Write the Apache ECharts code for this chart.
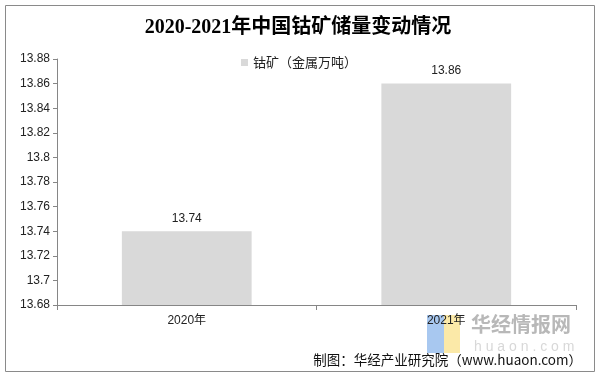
<!DOCTYPE html>
<html><head><meta charset="utf-8">
<script src="https://cdn.jsdelivr.net/npm/echarts@6/dist/echarts.min.js"></script>
<style>html,body{margin:0;padding:0;background:#fff}#c{width:596px;height:374px}</style>
</head><body><div id="c"></div>
<script>
var categories = ['2020年', '2021年'];
var values = [13.74, 13.86];
var seriesName = '钴矿（金属万吨）';
var titleText = '2020-2021年中国钴矿储量变动情况';
var sourceText = '制图：华经产业研究院（www.huaon.com）';
var yMin = 13.68, yMax = 13.88, yStep = 0.02;

var chart = echarts.init(document.getElementById('c'), null, {renderer: 'canvas'});
chart.setOption({
  animation: false,
  backgroundColor: '#fff',
  title: {
    text: titleText, left: 'center', top: 13,
    textStyle: {fontFamily: '"Liberation Serif", "Noto Sans CJK SC", serif', fontSize: 20, fontWeight: 'bold', color: '#000'}
  },
  legend: {
    top: 51, left: 236, itemWidth: 7, itemHeight: 7, itemGap: 4,
    textStyle: {fontFamily: '"Noto Sans CJK SC", sans-serif', fontSize: 13, color: '#222'},
    data: [{name: seriesName, icon: 'rect'}]
  },
  grid: {left: 57, right: 20, top: 59, bottom: 69},
  xAxis: {
    type: 'category', data: categories,
    axisLine: {lineStyle: {color: '#868686'}},
    axisTick: {show: true, length: 5, lineStyle: {color: '#868686'}},
    axisLabel: {fontFamily: '"Liberation Sans", "Noto Sans CJK SC", sans-serif', fontSize: 12, color: '#222', margin: 10}
  },
  yAxis: {
    type: 'value', min: yMin, max: yMax, interval: yStep,
    axisLine: {show: true, lineStyle: {color: '#868686'}},
    axisTick: {show: true, length: 4, lineStyle: {color: '#868686'}},
    splitLine: {show: false},
    axisLabel: {
      fontFamily: '"Liberation Sans", sans-serif', fontSize: 12, color: '#222', margin: 7,
      formatter: function (v) { return String(parseFloat(v.toFixed(2))); }
    }
  },
  series: [{
    name: seriesName, type: 'bar', data: values, barWidth: '50%',
    itemStyle: {color: '#d9d9d9'},
    label: {show: true, position: 'top', distance: 7, fontFamily: '"Liberation Sans", sans-serif', fontSize: 12, color: '#222',
      formatter: function (p) { return p.value.toFixed(2); }}
  }],
  graphic: [
    {type: 'rect', left: 3, top: 3, shape: {width: 589, height: 366}, style: {fill: 'none', stroke: '#8a8a8a', lineWidth: 1}, z: -1},
    {type: 'rect', left: 427, top: 315, shape: {width: 17, height: 38}, style: {fill: '#a8c8f0'}, z: 0},
    {type: 'rect', left: 444, top: 315, shape: {width: 16, height: 38}, style: {fill: '#fbe9a8'}, z: 0},
    {type: 'text', left: 471, top: 314, style: {text: '华经情报网', fill: '#b8b8b8', fontSize: 20, fontWeight: 'bold', fontFamily: '"Noto Sans CJK SC", sans-serif'}, z: 0},
    {type: 'text', left: 474, top: 340, style: {text: 'h u a o n . c o m', fill: '#d8d8d8', fontSize: 14, fontFamily: '"Liberation Sans", sans-serif'}, z: 0},
    {type: 'text', right: 14, top: 353, style: {text: sourceText, fill: '#111', fontSize: 13.5, fontFamily: '"Noto Sans CJK SC", sans-serif'}, z: 10}
  ]
});
</script></body></html>
